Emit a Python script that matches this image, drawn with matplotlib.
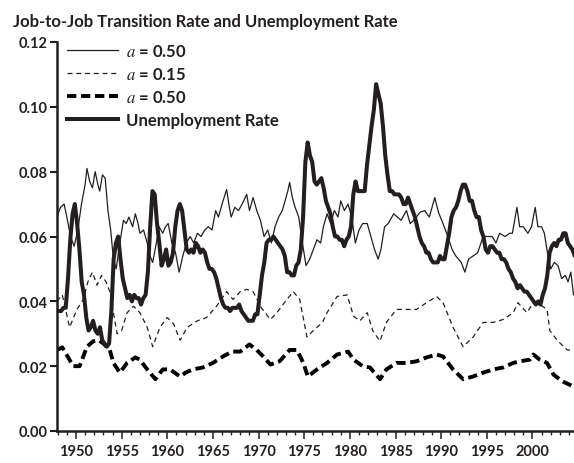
import numpy as np
import matplotlib
matplotlib.use('Agg')
import matplotlib.pyplot as plt

INK = '#231f20'

# unemployment rate, quarterly 1948Q1..2004Q4
ur = [3.7, 3.7, 3.8, 3.8, 4.7, 5.9, 6.7, 7.0, 6.4, 5.6, 4.6, 4.2,
      3.5, 3.1, 3.2, 3.4, 3.1, 3.0, 3.2, 2.8, 2.7, 2.6, 2.7, 3.7,
      5.3, 5.8, 6.0, 5.3, 4.7, 4.4, 4.1, 4.2, 4.0, 4.2, 4.1, 4.1,
      3.9, 4.1, 4.2, 4.9, 6.3, 7.4, 7.3, 6.4, 5.8, 5.1, 5.3, 5.6,
      5.1, 5.2, 5.5, 6.3, 6.8, 7.0, 6.8, 6.2, 5.6, 5.5, 5.6, 5.5,
      5.8, 5.7, 5.5, 5.6, 5.5, 5.2, 5.0, 5.0, 4.9, 4.7, 4.4, 4.1,
      3.9, 3.8, 3.8, 3.7, 3.8, 3.8, 3.8, 3.9, 3.7, 3.6, 3.5, 3.4,
      3.4, 3.4, 3.6, 3.6, 4.2, 4.8, 5.2, 5.8, 5.9, 5.9, 6.0, 5.9,
      5.8, 5.7, 5.6, 5.4, 4.9, 4.9, 4.8, 4.8, 5.1, 5.2, 5.6, 6.6,
      8.3, 8.9, 8.5, 8.3, 7.7, 7.6, 7.7, 7.8, 7.5, 7.1, 6.9, 6.7,
      6.3, 6.0, 6.0, 5.9, 5.9, 5.7, 5.9, 6.0, 6.3, 7.3, 7.7, 7.4,
      7.4, 7.4, 7.4, 8.2, 8.8, 9.4, 9.9, 10.7, 10.4, 10.1, 9.4, 8.5,
      7.9, 7.4, 7.4, 7.3, 7.3, 7.3, 7.2, 7.0, 7.0, 7.2, 7.0, 6.8,
      6.6, 6.3, 6.0, 5.8, 5.7, 5.5, 5.5, 5.3, 5.2, 5.2, 5.2, 5.4,
      5.3, 5.3, 5.7, 6.1, 6.6, 6.8, 6.9, 7.1, 7.4, 7.6, 7.6, 7.4,
      7.1, 7.1, 6.8, 6.6, 6.6, 6.2, 6.0, 5.6, 5.5, 5.7, 5.7, 5.6,
      5.5, 5.5, 5.3, 5.3, 5.2, 5.0, 4.9, 4.7, 4.6, 4.4, 4.5, 4.4,
      4.3, 4.3, 4.2, 4.1, 4.0, 3.9, 4.0, 3.9, 4.2, 4.4, 4.8, 5.5,
      5.7, 5.8, 5.7, 5.9, 5.9, 6.1, 6.1, 5.8, 5.7, 5.6, 5.4, 5.4]
ur_t = 1948.125 + 0.25 * np.arange(len(ur))
ur_rate = np.array(ur) / 100.0

# job-to-job transition rate, a = 0.50 (thin solid)
j50_t = [1947.9, 1948.3, 1948.7, 1949.0, 1949.4, 1949.8, 1950.2, 1950.6, 1951.0, 1951.2,
         1951.5, 1951.8, 1952.1, 1952.4, 1952.6, 1952.9, 1953.2, 1953.5, 1953.8, 1954.1,
         1954.4, 1954.8, 1955.2, 1955.5, 1955.8, 1956.2, 1956.5, 1956.8, 1957.0, 1957.4,
         1957.8, 1958.1, 1958.4, 1958.8, 1959.1, 1959.5, 1959.8, 1960.1, 1960.5, 1960.9,
         1961.3, 1961.7, 1962.1, 1962.5, 1962.9, 1963.3, 1963.7, 1964.1, 1964.5, 1964.9,
         1965.3, 1965.6, 1966.0, 1966.5, 1966.8, 1967.0, 1967.4, 1967.8, 1968.2, 1968.7,
         1969.0, 1969.4, 1969.8, 1970.2, 1970.6, 1971.0, 1971.4, 1971.8, 1972.2, 1972.6,
         1972.9, 1973.2, 1973.4, 1973.7, 1974.0, 1974.4, 1974.8, 1975.2, 1975.6, 1976.0,
         1976.4, 1976.8, 1977.1, 1977.5, 1977.9, 1978.3, 1978.7, 1979.0, 1979.4, 1979.8,
         1980.2, 1980.6, 1981.0, 1981.4, 1981.9, 1982.3, 1982.7, 1983.1, 1983.4, 1983.8,
         1984.2, 1984.8, 1985.2, 1985.6, 1986.2, 1986.6, 1987.0, 1987.7, 1988.2, 1988.7,
         1989.3, 1989.7, 1990.2, 1990.6, 1991.2, 1991.6, 1992.2, 1992.6, 1993.0, 1993.5,
         1994.0, 1994.6, 1995.2, 1995.6, 1996.0, 1996.4, 1997.0, 1997.5, 1997.8, 1998.3,
         1998.6, 1999.0, 1999.5, 1999.9, 2000.3, 2000.6, 2001.0, 2001.3, 2001.7, 2002.0,
         2002.4, 2002.8, 2003.2, 2003.6, 2003.9, 2004.2, 2004.5]
j50 = [0.066, 0.069, 0.070, 0.066, 0.060, 0.057, 0.062, 0.070, 0.076, 0.081,
       0.077, 0.075, 0.080, 0.076, 0.074, 0.079, 0.078, 0.068, 0.062, 0.053,
       0.050, 0.058, 0.065, 0.064, 0.066, 0.063, 0.067, 0.064, 0.061, 0.062,
       0.058, 0.054, 0.052, 0.058, 0.063, 0.061, 0.063, 0.064, 0.058, 0.055,
       0.049, 0.054, 0.058, 0.060, 0.058, 0.061, 0.060, 0.062, 0.063, 0.062,
       0.068, 0.066, 0.070, 0.0745, 0.069, 0.066, 0.069, 0.068, 0.070, 0.073,
       0.068, 0.072, 0.068, 0.065, 0.060, 0.062, 0.058, 0.063, 0.066, 0.068,
       0.071, 0.074, 0.0767, 0.072, 0.069, 0.066, 0.058, 0.051, 0.053, 0.056,
       0.059, 0.058, 0.063, 0.067, 0.064, 0.068, 0.066, 0.071, 0.068, 0.070,
       0.066, 0.058, 0.062, 0.064, 0.064, 0.060, 0.056, 0.053, 0.056, 0.063,
       0.064, 0.067, 0.066, 0.065, 0.068, 0.064, 0.065, 0.0675, 0.068, 0.066,
       0.072, 0.0675, 0.064, 0.061, 0.056, 0.054, 0.052, 0.049, 0.053, 0.054,
       0.055, 0.060, 0.060, 0.060, 0.058, 0.061, 0.060, 0.061, 0.061, 0.069,
       0.063, 0.063, 0.061, 0.063, 0.069, 0.063, 0.063, 0.061, 0.054, 0.050,
       0.052, 0.051, 0.047, 0.048, 0.046, 0.049, 0.042]

# a = 0.15 (thin dashed)
j15_t = [1947.9, 1948.5, 1949.3, 1950.1, 1950.8, 1951.3, 1951.8, 1952.3, 1952.8, 1953.3,
         1953.7, 1954.5, 1955.0, 1955.6, 1956.3, 1957.0, 1957.8, 1958.4, 1959.2, 1960.0,
         1960.7, 1961.4, 1962.2, 1963.3, 1964.3, 1965.4, 1966.5, 1967.2, 1968.0, 1968.7,
         1969.4, 1970.3, 1971.3, 1972.0, 1973.1, 1973.8, 1974.5, 1975.3, 1976.0, 1977.0,
         1977.5, 1978.6, 1979.7, 1980.4, 1981.1, 1981.9, 1982.5, 1983.3, 1984.0, 1985.1,
         1986.2, 1987.3, 1988.4, 1989.5, 1990.2, 1991.3, 1992.4, 1993.5, 1994.6, 1995.7,
         1996.8, 1997.9, 1998.4, 1999.4, 2000.1, 2000.8, 2001.6, 2001.9, 2002.7, 2003.8,
         2004.5]
j15 = [0.040, 0.042, 0.032, 0.0375, 0.0406, 0.046, 0.049, 0.045, 0.048, 0.046,
       0.043, 0.030, 0.031, 0.0365, 0.0385, 0.0365, 0.032, 0.026, 0.032, 0.035,
       0.033, 0.028, 0.032, 0.034, 0.035, 0.0385, 0.043, 0.0406, 0.043, 0.0437,
       0.043, 0.038, 0.0344, 0.0365, 0.0406, 0.043, 0.0406, 0.029, 0.031, 0.0335,
       0.0365, 0.0415, 0.042, 0.0354, 0.034, 0.0365, 0.031, 0.0277, 0.0335, 0.0375,
       0.0375, 0.0375, 0.0396, 0.0415, 0.0396, 0.032, 0.026, 0.029, 0.0335, 0.0335,
       0.0344, 0.0365, 0.0396, 0.0365, 0.0396, 0.039, 0.0375, 0.031, 0.028, 0.025,
       0.025]

# a = 0.50 (thick dashed)
j50b_t = [1947.9, 1948.5, 1949.7, 1950.4, 1951.2, 1951.9, 1952.5, 1953.0, 1953.7, 1954.1,
          1954.8, 1955.6, 1956.5, 1957.0, 1957.8, 1958.7, 1959.5, 1960.3, 1961.4, 1962.0,
          1962.8, 1963.9, 1965.0, 1966.1, 1967.1, 1968.0, 1969.0, 1969.8, 1970.5, 1971.3,
          1972.3, 1973.4, 1974.2, 1974.9, 1975.4, 1976.4, 1977.5, 1978.6, 1979.8, 1980.4,
          1981.4, 1982.2, 1983.3, 1984.0, 1985.1, 1986.2, 1987.3, 1988.4, 1989.5, 1990.2,
          1991.3, 1992.4, 1993.5, 1994.6, 1995.7, 1996.8, 1997.9, 1998.6, 1999.7, 2000.1,
          2000.8, 2001.6, 2002.3, 2003.3, 2004.5]
j50b = [0.025, 0.0258, 0.020, 0.020, 0.026, 0.0277, 0.028, 0.027, 0.025, 0.021,
        0.018, 0.021, 0.0227, 0.022, 0.019, 0.016, 0.019, 0.019, 0.0168, 0.018,
        0.019, 0.0196, 0.021, 0.023, 0.0245, 0.0245, 0.0267, 0.025, 0.023, 0.0205,
        0.0215, 0.025, 0.025, 0.021, 0.0168, 0.019, 0.021, 0.0236, 0.0245, 0.022,
        0.020, 0.0196, 0.016, 0.019, 0.021, 0.021, 0.0215, 0.0227, 0.0236, 0.023,
        0.019, 0.016, 0.0168, 0.018, 0.019, 0.0196, 0.021, 0.0215, 0.022, 0.0236,
        0.022, 0.021, 0.0174, 0.0153, 0.0137]

plt.rcParams['font.family'] = ['Lato', 'DejaVu Sans']
plt.rcParams['mathtext.fontset'] = 'stix'

fig = plt.figure(figsize=(5.74, 4.64), dpi=100)
ax = fig.add_axes([57 / 574, 32 / 464, 1 - 57 / 574, 389 / 464])

ax.plot(j50_t, j50, color=INK, lw=0.9, label='$a$ = 0.50')
ax.plot(j15_t, j15, color=INK, lw=0.9, dashes=(4, 3), label='$a$ = 0.15')
ax.plot(j50b_t, j50b, color='black', lw=2.8, dashes=(2.4, 1.2), label='$a$ = 0.50')
ax.plot(ur_t, ur_rate, color=INK, lw=2.9, label='Unemployment Rate')

ax.set_xlim(1947.92, 2004.55)
ax.set_ylim(0, 0.12)
ax.set_yticks(np.arange(0, 0.121, 0.02))
ax.set_yticklabels(['%.2f' % v for v in np.arange(0, 0.121, 0.02)])
ax.set_xticks(np.arange(1950, 2001, 5))
ax.set_xticks(np.arange(1948, 2005, 1), minor=True)

for s in ('top', 'right'):
    ax.spines[s].set_visible(False)
for s in ('left', 'bottom'):
    ax.spines[s].set_linewidth(1.8)
    ax.spines[s].set_color(INK)
ax.tick_params(axis='y', length=5, width=1.5, color=INK, pad=2,
               labelsize=10.5, labelcolor=INK)
ax.tick_params(axis='x', which='major', length=5.5, width=1.1, color=INK,
               pad=4, labelsize=10.5, labelcolor=INK)
ax.tick_params(axis='x', which='minor', length=3, width=1.0, color=INK)
for lab in ax.get_xticklabels() + ax.get_yticklabels():
    lab.set_fontweight('bold')

leg = ax.legend(loc='upper left', bbox_to_anchor=(0.004, 1.02), frameon=False,
                handlelength=3.05, handletextpad=0.48, labelspacing=0.43,
                borderpad=0, prop={'size': 12, 'weight': 'bold'})
for t in leg.get_texts():
    t.set_color(INK)

fig.text(13 / 574, 1 - 27 / 464, 'Job-to-Job Transition Rate and Unemployment Rate',
         fontsize=12, fontweight='bold', color=INK, va='baseline', ha='left')

fig.savefig('out.png', dpi=100)
